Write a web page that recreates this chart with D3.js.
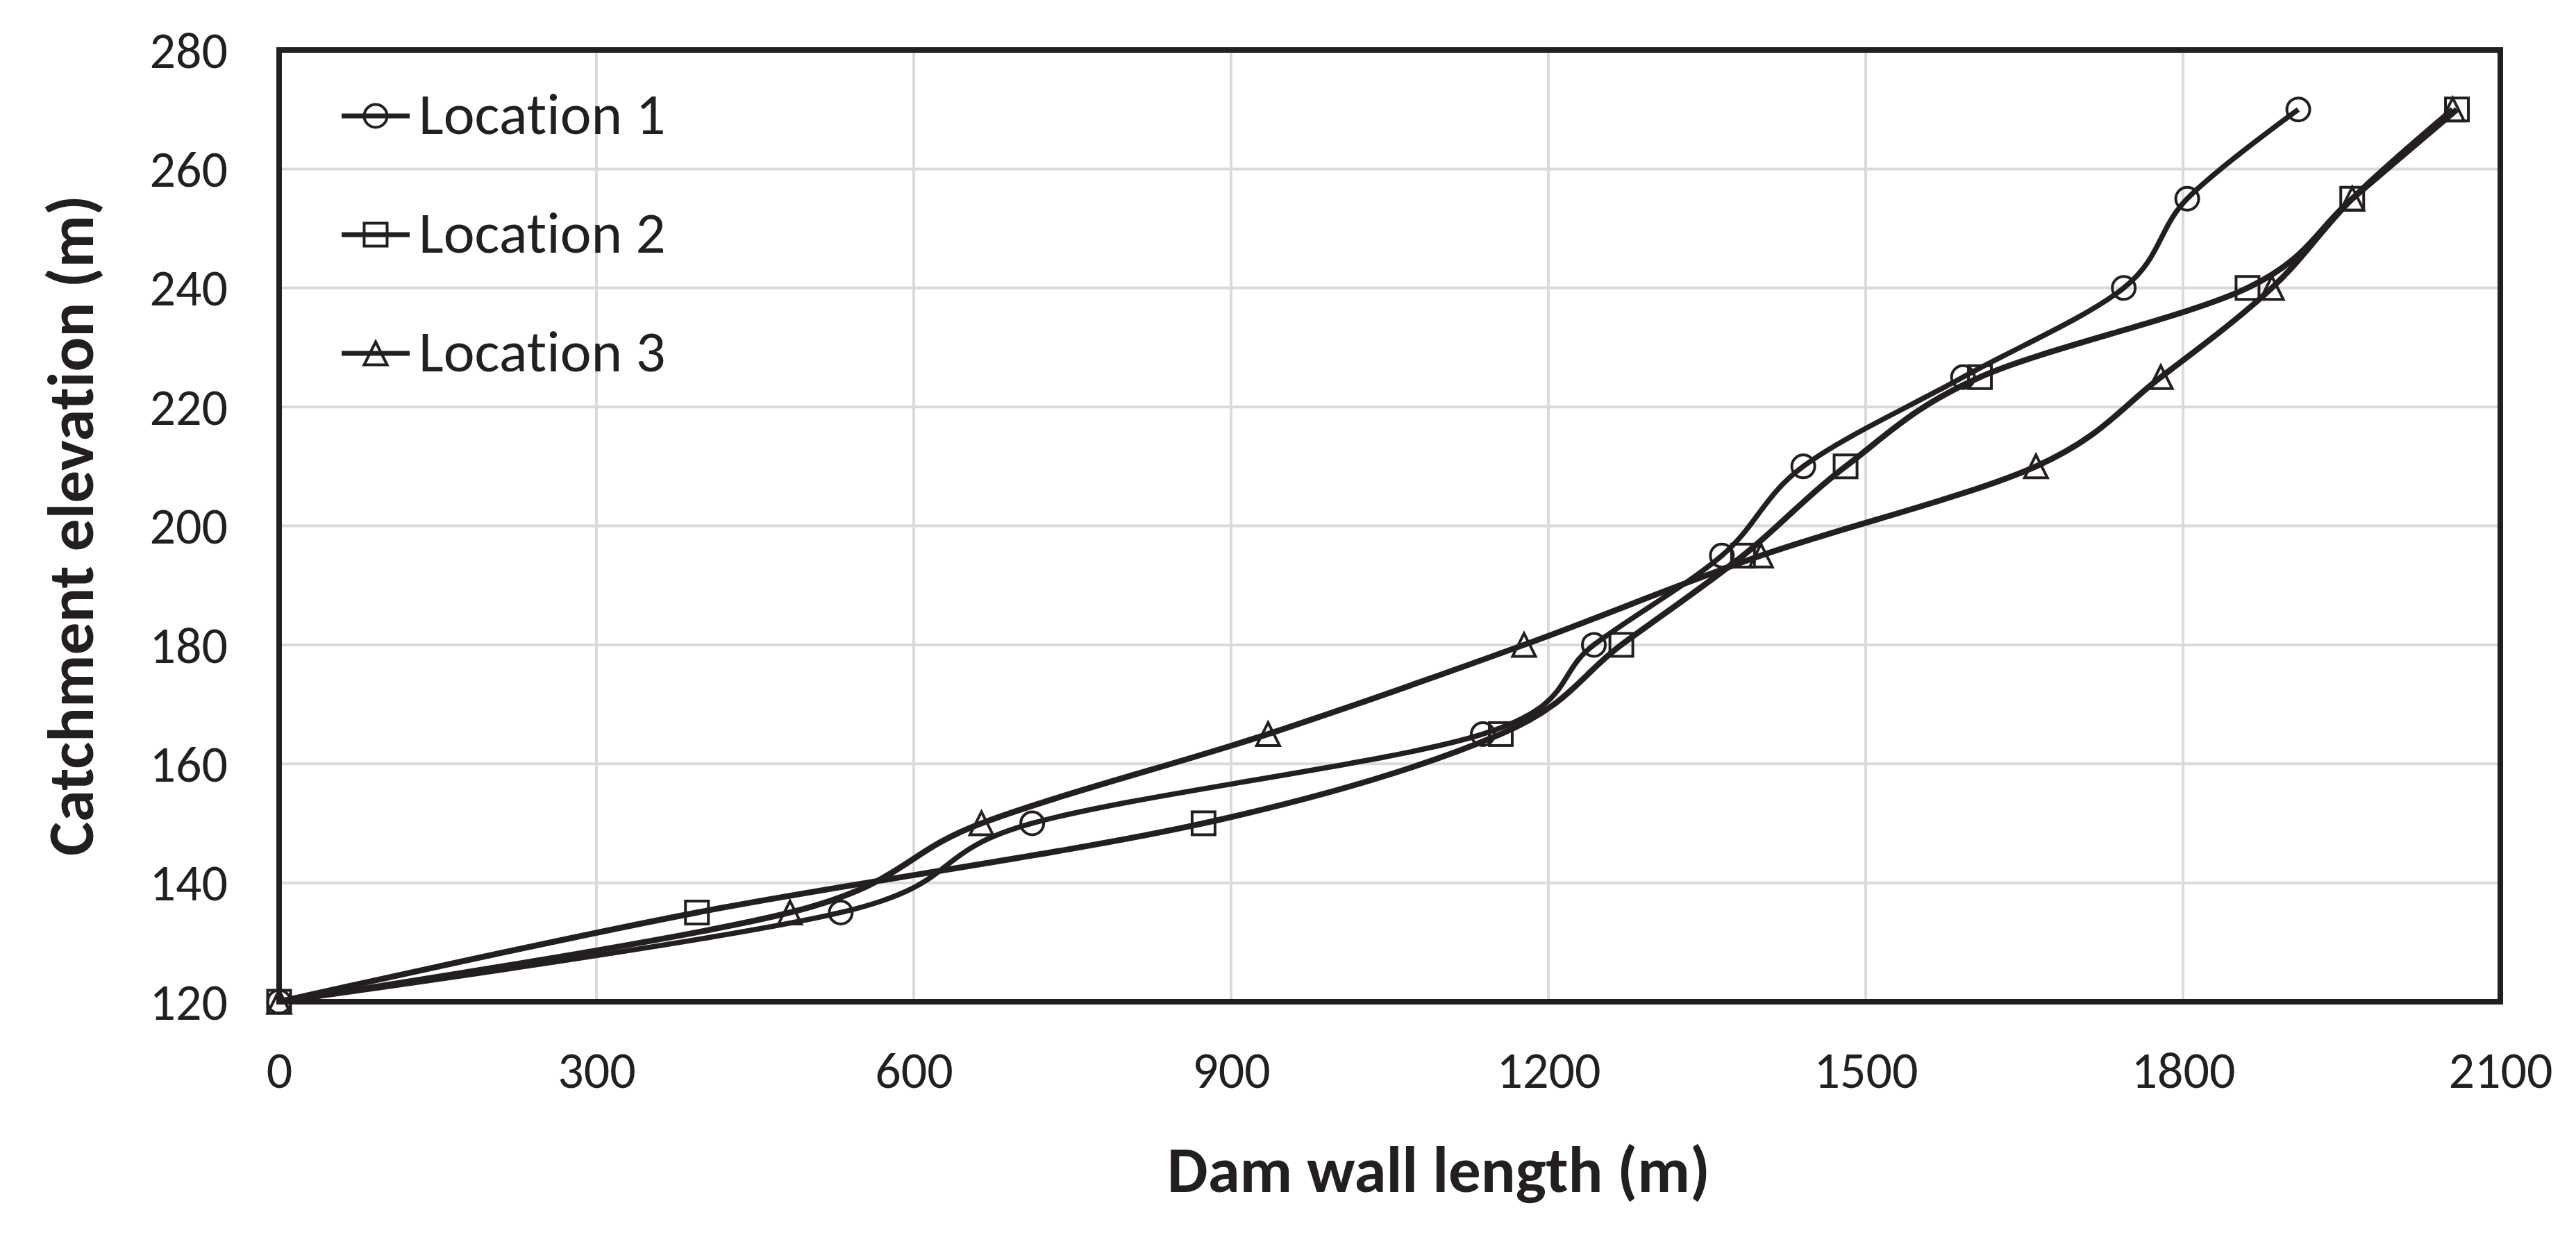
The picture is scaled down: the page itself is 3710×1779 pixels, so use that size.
<!DOCTYPE html>
<html>
<head>
<meta charset="utf-8">
<script src="https://cdn.jsdelivr.net/npm/d3@7"></script>
<style>
html,body{margin:0;padding:0;background:#fff;}
svg{display:block;}
text{font-family:Carlito, Calibri, "Liberation Sans Narrow", "Liberation Sans", sans-serif;fill:#231f20;font-variant-ligatures:none;font-feature-settings:"liga" 0, "clig" 0;}
</style>
</head>
<body>
<svg id="chart" width="3710" height="1779"></svg>
<script>
const elevations = [120, 135, 150, 165, 180, 195, 210, 225, 240, 255, 270];
const location1Length = [0, 531, 712, 1138, 1243, 1364, 1441, 1592, 1744, 1804, 1909];
const location2Length = [0, 395, 874, 1155, 1269, 1384, 1481, 1608, 1861, 1960, 2059];
const location3Length = [0, 483, 664, 935, 1177, 1401, 1661, 1779, 1884, 1960, 2055];
const seriesNames = ["Location 1", "Location 2", "Location 3"];
const markerTypes = ["circle", "square", "triangle"];
const xTicks = [0, 300, 600, 900, 1200, 1500, 1800, 2100];
const yTicks = [120, 140, 160, 180, 200, 220, 240, 260, 280];

const series = [location1Length, location2Length, location3Length].map((xs, i) => ({
  name: seriesNames[i],
  marker: markerTypes[i],
  points: xs.map((x, j) => ({x: x, y: elevations[j]}))
}));

const ink = "#231f20";
const fontStack = 'Carlito, Calibri, "Liberation Sans Narrow", "Liberation Sans", sans-serif';
const svg = d3.select("#chart");
const L = 402, T = 72, R = 3601, B = 1443;
const x = d3.scaleLinear().domain([0, 2100]).range([L, R]);
const y = d3.scaleLinear().domain([120, 280]).range([B, T]);

// gridlines
svg.append("g").selectAll("line").data(yTicks).join("line")
  .attr("x1", L).attr("x2", R).attr("y1", d => y(d)).attr("y2", d => y(d))
  .attr("stroke", "#d9dadc").attr("stroke-width", 4);
svg.append("g").selectAll("line").data(xTicks).join("line")
  .attr("y1", T).attr("y2", B).attr("x1", d => x(d)).attr("x2", d => x(d))
  .attr("stroke", "#d9dadc").attr("stroke-width", 4);

// axes (labels only)
const xAxis = svg.append("g").attr("transform", `translate(0,${B})`)
  .call(d3.axisBottom(x).tickValues(xTicks).tickSize(0).tickPadding(0).tickFormat(d3.format("d")));
xAxis.select(".domain").remove();
xAxis.selectAll("text").attr("y", 124).attr("dy", null).attr("font-size", 74)
  .style("font-family", fontStack).attr("fill", ink);

const yAxis = svg.append("g").attr("transform", `translate(${L},0)`)
  .call(d3.axisLeft(y).tickValues(yTicks).tickSize(0).tickPadding(0).tickFormat(d3.format("d")));
yAxis.select(".domain").remove();
yAxis.selectAll("text").attr("x", -74).attr("dy", "0.34em").attr("font-size", 74)
  .style("font-family", fontStack).attr("fill", ink);

// plot border
svg.append("rect").attr("x", L).attr("y", T).attr("width", R - L).attr("height", B - T)
  .attr("fill", "none").attr("stroke", ink).attr("stroke-width", 8);

// lines
const line = d3.line().x(d => x(d.x)).y(d => y(d.y)).curve(d3.curveCardinal.tension(0));
const lineWidths = [7.5, 8.5, 8.5];
series.forEach((s, i) => {
  svg.append("path").datum(s.points).attr("d", line)
    .attr("fill", "none").attr("stroke", ink).attr("stroke-width", lineWidths[i])
    .attr("stroke-linejoin", "round");
});

function drawMarker(g, type, cx, cy) {
  const r = 16.5;
  if (type === "circle") {
    g.append("circle").attr("cx", cx).attr("cy", cy).attr("r", r);
  } else if (type === "square") {
    g.append("rect").attr("x", cx - r).attr("y", cy - r).attr("width", 2 * r).attr("height", 2 * r);
  } else {
    g.append("path").attr("d", `M${cx},${cy - r}L${cx + r},${cy + r}L${cx - r},${cy + r}Z`);
  }
}

series.forEach(s => {
  const g = svg.append("g").attr("fill", "none").attr("stroke", ink).attr("stroke-width", 4);
  s.points.forEach(p => drawMarker(g, s.marker, x(p.x), y(p.y)));
});

// legend
const legY = [167, 338, 509];
series.forEach((s, i) => {
  const g = svg.append("g");
  g.append("line").attr("x1", 492).attr("x2", 590).attr("y1", legY[i]).attr("y2", legY[i])
    .attr("stroke", ink).attr("stroke-width", 7);
  const mg = g.append("g").attr("fill", "none").attr("stroke", ink).attr("stroke-width", 4);
  drawMarker(mg, s.marker, 541, legY[i]);
  g.append("text").attr("x", 603).attr("y", legY[i] + 26).attr("font-size", 85).text(s.name);
});

// axis titles
svg.append("text").attr("x", 2072).attr("y", 1717).attr("text-anchor", "middle")
  .attr("font-size", 93).attr("font-weight", "bold").text("Dam wall length (m)");
svg.append("text").attr("transform", `translate(134,757) rotate(-90)`).attr("text-anchor", "middle")
  .attr("font-size", 93).attr("font-weight", "bold").text("Catchment elevation (m)");
</script>
</body>
</html>
